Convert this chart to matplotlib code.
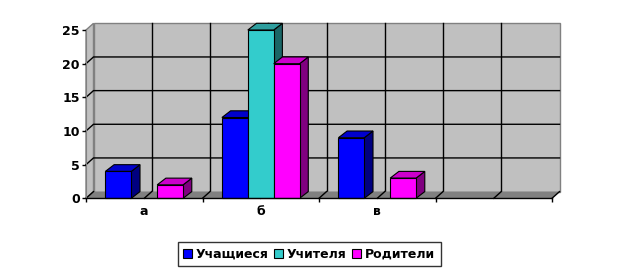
import matplotlib
matplotlib.use("Agg")
import matplotlib.pyplot as plt
from matplotlib.patches import Polygon, Patch
import numpy as np

categories = ['а', 'б', 'в', '']
series_names = ['Учащиеся', 'Учителя', 'Родители']
pupils = [4, 12, 9, 0]
teachers = [0, 25, 0, 0]
parents = [2, 20, 3, 0]
y_ticks = [0, 5, 10, 15, 20, 25]

front_colors = ['#0000FF', '#33CCCC', '#FF00FF']
top_colors = ['#0000CC', '#2E9E9E', '#CC00CC']
side_colors = ['#000080', '#1A6666', '#800080']

W, H = 622, 276
fig = plt.figure(figsize=(W / 100, H / 100), dpi=100)
fig.patch.set_facecolor('white')

x0px, x1px, y0px, y1px = 86, 552, 198.3, 30
ax = fig.add_axes([x0px / W, 1 - y0px / H, (x1px - x0px) / W, (y0px - y1px) / H])
ncat = len(categories)
ymax = 25
ax.set_xlim(0, ncat)
ax.set_ylim(0, ymax)
ax.set_facecolor('none')

pxx = (x1px - x0px) / ncat
pxy = (y0px - y1px) / ymax
dxw, dyw = 7.5 / pxx, 6.7 / pxy
dxb, dyb = 8.7 / pxx, 6.7 / pxy

def poly(pts, fc, ec, lw, z):
    p = Polygon(pts, closed=True, facecolor=fc, edgecolor=ec, linewidth=lw,
                clip_on=False, zorder=z, joinstyle='miter')
    ax.add_patch(p)

# side wall
poly([(0, 0), (dxw, dyw), (dxw, ymax + dyw), (0, ymax)], '#C0C0C0', '#808080', 1.0, 1)
# back wall
poly([(dxw, dyw), (ncat + dxw, dyw), (ncat + dxw, ymax + dyw), (dxw, ymax + dyw)],
     '#C0C0C0', '#808080', 1.0, 1)
# gridlines
for yv in y_ticks[1:-1]:
    ax.plot([0, dxw, ncat + dxw], [yv, yv + dyw, yv + dyw], color='black', lw=1.0,
            clip_on=False, zorder=2)
for k in range(1, 2 * ncat):
    xv = k * 0.5 + dxw
    ax.plot([xv, xv], [dyw, ymax + dyw], color='black', lw=1.0, clip_on=False, zorder=2)
# floor
poly([(0, 0), (ncat, 0), (ncat + dxw, dyw), (dxw, dyw)], '#808080', 'none', 0, 3)
for k in range(0, 2 * ncat + 1):
    xv = k * 0.5
    ax.plot([xv, xv + dxw], [0, dyw], color='black', lw=1.0, clip_on=False, zorder=4)

# bars
values = [pupils, teachers, parents]
w = 1 / 4.5
z = 10
for i in range(ncat):
    for j in range(len(values)):
        v = values[j][i]
        if not v:
            continue
        xa = i + 0.5 + (j - 1.5) * w
        xb = xa + w
        poly([(xb, 0), (xb + dxb, dyb), (xb + dxb, v + dyb), (xb, v)], side_colors[j], 'black', 0.8, z)
        poly([(xa, v), (xb, v), (xb + dxb, v + dyb), (xa + dxb, v + dyb)], top_colors[j], 'black', 0.8, z + 1)
        poly([(xa, 0), (xb, 0), (xb, v), (xa, v)], front_colors[j], 'black', 0.8, z + 2)
        z += 3

# axes styling
for s in ['top', 'right']:
    ax.spines[s].set_visible(False)
ax.spines['left'].set_color('#808080')
ax.spines['left'].set_zorder(5)
ax.spines['bottom'].set_color('black')
ax.spines['bottom'].set_linewidth(1.0)
ax.spines['bottom'].set_zorder(50)

ax.set_yticks(y_ticks)
ax.set_yticklabels([str(t) for t in y_ticks], fontsize=9, fontweight='bold')
ax.tick_params(axis='y', direction='out', length=3, width=1, pad=1.5, color='black')

ax.set_xticks(range(ncat + 1))
ax.set_xticklabels([''] * (ncat + 1))
ax.tick_params(axis='x', which='major', direction='out', length=3, width=1, color='black')
ax.set_xticks([i + 0.5 for i in range(ncat)], minor=True)
ax.set_xticklabels(categories, minor=True, fontsize=9, fontweight='bold')
ax.tick_params(axis='x', which='minor', length=0, pad=5)

handles = [Patch(facecolor=c, edgecolor='black', linewidth=0.8) for c in front_colors]
leg = fig.legend(handles, series_names, loc='center', bbox_to_anchor=(309.2 / W, 1 - 254.3 / H),
                 ncol=3, frameon=True, fancybox=False, edgecolor='black',
                 prop={'size': 9, 'weight': 'bold'}, handlelength=0.7, handleheight=0.7,
                 handletextpad=0.3, columnspacing=0.45, borderpad=0.45, borderaxespad=0)
leg.get_frame().set_linewidth(1.0)

fig.savefig('out.png', dpi=100, facecolor='white')
